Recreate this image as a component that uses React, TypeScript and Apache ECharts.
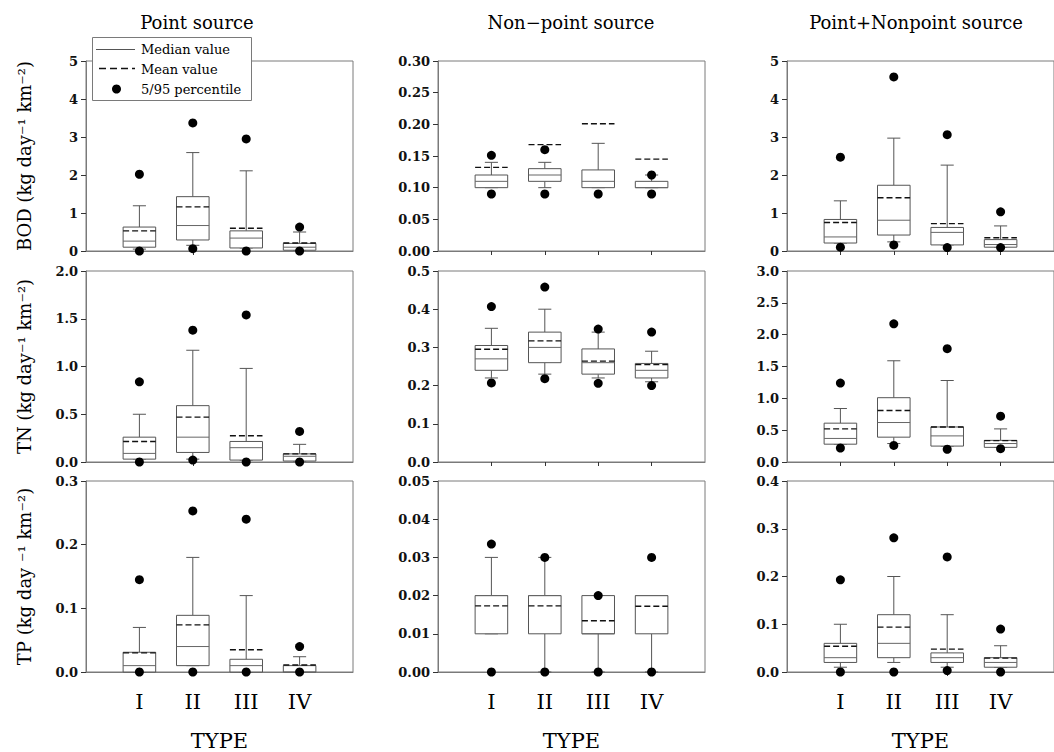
import React, { useEffect, useRef } from "react";
import * as echarts from "echarts";

// ---------- categories / labels ----------
const TYPES = ["I", "II", "III", "IV"];
const TYPE_POS = [1, 2, 3, 4];
const COL_TITLES = ["Point source", "Non\u2212point source", "Point+Nonpoint source"];
const ROW_LABELS = [
  "BOD (kg day\u207B\u00B9 km\u207B\u00B2)",
  "TN (kg day\u207B\u00B9 km\u207B\u00B2)",
  "TP (kg day \u207B\u00B9 km\u207B\u00B2)",
];
const X_TITLE = "TYPE";
const LEGEND_LABELS = ["Median value", "Mean value", "5/95 percentile"];

// y-axis scales per panel (row-major: BOD, TN, TP x Point, Nonpoint, Point+Nonpoint)
const Y_MAX = [5, 0.3, 5, 2.0, 0.5, 3.0, 0.3, 0.05, 0.4];
const Y_STEP = [1, 0.05, 1, 0.5, 0.1, 0.5, 0.1, 0.01, 0.1];
const Y_DEC = [0, 2, 0, 1, 1, 1, 1, 2, 1];

// ---------- data: box = [lower whisker, Q1, median, Q3, upper whisker] ----------
const BOD_POINT_BOX = [[0.05, 0.1, 0.26, 0.63, 1.19], [0.15, 0.29, 0.67, 1.43, 2.59], [0.08, 0.08, 0.34, 0.53, 2.11], [0.02, 0.02, 0.1, 0.2, 0.5]];
const BOD_POINT_MEAN = [0.53, 1.16, 0.6, 0.21];
const BOD_POINT_P95 = [2.02, 3.37, 2.95, 0.63];
const BOD_POINT_P5 = [0.0, 0.06, 0.0, 0.0];

const BOD_NONPOINT_BOX = [[0.1, 0.1, 0.11, 0.12, 0.14], [0.1, 0.11, 0.12, 0.13, 0.14], [0.1, 0.1, 0.11, 0.128, 0.17], [0.1, 0.1, 0.1, 0.11, 0.12]];
const BOD_NONPOINT_MEAN = [0.132, 0.168, 0.201, 0.145];
const BOD_NONPOINT_P95 = [0.151, 0.16, null, 0.12];
const BOD_NONPOINT_P5 = [0.09, 0.09, 0.09, 0.09];

const BOD_BOTH_BOX = [[0.21, 0.21, 0.37, 0.83, 1.32], [0.24, 0.42, 0.81, 1.73, 2.97], [0.16, 0.16, 0.49, 0.62, 2.26], [0.1, 0.1, 0.17, 0.3, 0.66]];
const BOD_BOTH_MEAN = [0.75, 1.4, 0.72, 0.35];
const BOD_BOTH_P95 = [2.47, 4.58, 3.06, 1.03];
const BOD_BOTH_P5 = [0.1, 0.16, 0.09, 0.09];

const TN_POINT_BOX = [[0.03, 0.03, 0.09, 0.26, 0.5], [0.03, 0.1, 0.26, 0.59, 1.17], [0.02, 0.02, 0.15, 0.215, 0.98], [0.01, 0.01, 0.06, 0.085, 0.185]];
const TN_POINT_MEAN = [0.215, 0.47, 0.275, 0.085];
const TN_POINT_P95 = [0.84, 1.38, 1.54, 0.32];
const TN_POINT_P5 = [0.0, 0.02, 0.0, 0.0];

const TN_NONPOINT_BOX = [[0.22, 0.24, 0.27, 0.305, 0.35], [0.23, 0.26, 0.3, 0.34, 0.4], [0.22, 0.23, 0.26, 0.296, 0.34], [0.21, 0.22, 0.24, 0.258, 0.29]];
const TN_NONPOINT_MEAN = [0.295, 0.317, 0.264, 0.255];
const TN_NONPOINT_P95 = [0.407, 0.458, 0.348, 0.34];
const TN_NONPOINT_P5 = [0.207, 0.218, 0.206, 0.2];

const TN_BOTH_BOX = [[0.28, 0.28, 0.37, 0.61, 0.84], [0.29, 0.39, 0.62, 1.01, 1.59], [0.25, 0.25, 0.41, 0.55, 1.28], [0.23, 0.23, 0.29, 0.34, 0.52]];
const TN_BOTH_MEAN = [0.52, 0.81, 0.55, 0.335];
const TN_BOTH_P95 = [1.24, 2.17, 1.78, 0.72];
const TN_BOTH_P5 = [0.22, 0.26, 0.2, 0.21];

const TP_POINT_BOX = [[0, 0, 0.01, 0.031, 0.07], [0.01, 0.01, 0.04, 0.089, 0.18], [0, 0, 0.01, 0.02, 0.12], [0, 0, 0, 0.01, 0.024]];
const TP_POINT_MEAN = [0.03, 0.074, 0.035, 0.011];
const TP_POINT_P95 = [0.145, 0.253, 0.24, 0.04];
const TP_POINT_P5 = [0, 0, 0, 0];

const TP_NONPOINT_BOX = [[0.01, 0.01, 0.02, 0.02, 0.03], [0.0, 0.01, 0.02, 0.02, 0.03], [0.0, 0.01, 0.01, 0.02, 0.02], [0.0, 0.01, 0.02, 0.02, 0.02]];
const TP_NONPOINT_MEAN = [0.0173, 0.0173, 0.0134, 0.0172];
const TP_NONPOINT_P95 = [0.0335, 0.03, 0.02, 0.03];
const TP_NONPOINT_P5 = [0, 0, 0, 0];

const TP_BOTH_BOX = [[0.01, 0.02, 0.03, 0.06, 0.1], [0.02, 0.03, 0.06, 0.12, 0.2], [0.01, 0.02, 0.03, 0.04, 0.12], [0.01, 0.01, 0.02, 0.03, 0.055]];
const TP_BOTH_MEAN = [0.054, 0.094, 0.048, 0.029];
const TP_BOTH_P95 = [0.193, 0.281, 0.241, 0.09];
const TP_BOTH_P5 = [0, 0, 0.003, 0];

const PANEL_BOX = [BOD_POINT_BOX, BOD_NONPOINT_BOX, BOD_BOTH_BOX, TN_POINT_BOX, TN_NONPOINT_BOX, TN_BOTH_BOX, TP_POINT_BOX, TP_NONPOINT_BOX, TP_BOTH_BOX];
const PANEL_MEAN = [BOD_POINT_MEAN, BOD_NONPOINT_MEAN, BOD_BOTH_MEAN, TN_POINT_MEAN, TN_NONPOINT_MEAN, TN_BOTH_MEAN, TP_POINT_MEAN, TP_NONPOINT_MEAN, TP_BOTH_MEAN];
const PANEL_P95 = [BOD_POINT_P95, BOD_NONPOINT_P95, BOD_BOTH_P95, TN_POINT_P95, TN_NONPOINT_P95, TN_BOTH_P95, TP_POINT_P95, TP_NONPOINT_P95, TP_BOTH_P95];
const PANEL_P5 = [BOD_POINT_P5, BOD_NONPOINT_P5, BOD_BOTH_P5, TN_POINT_P5, TN_NONPOINT_P5, TN_BOTH_P5, TP_POINT_P5, TP_NONPOINT_P5, TP_BOTH_P5];

// ---------- layout ----------
const GRID_LEFT = [86, 438, 787];
const GRID_TOP = [61, 271, 481];
const GRID_H = [190, 191, 191];
const GRID_W = 267;
const BOX_W = 0.61;
const CAP_W = 0.245;
const FONT = "DejaVu Serif";
const FRAME = "#7a7a7a";
const BOX_STROKE = "#555";

const renderBox = (_params: any, api: any) => {
  const x = api.value(0);
  const lo = api.coord([x, api.value(1)]);
  const q1 = api.coord([x, api.value(2)]);
  const md = api.coord([x, api.value(3)]);
  const q3 = api.coord([x, api.value(4)]);
  const hi = api.coord([x, api.value(5)]);
  const mn = api.coord([x, api.value(6)]);
  const hw = api.size([BOX_W, 0])[0] / 2;
  const cw = api.size([CAP_W, 0])[0] / 2;
  const cx = q1[0];
  const st = { stroke: BOX_STROKE, lineWidth: 1, fill: null };
  return {
    type: "group",
    children: [
      { type: "line", shape: { x1: cx, y1: q3[1], x2: cx, y2: hi[1] }, style: st },
      { type: "line", shape: { x1: cx - cw, y1: hi[1], x2: cx + cw, y2: hi[1] }, style: st },
      { type: "line", shape: { x1: cx, y1: q1[1], x2: cx, y2: lo[1] }, style: st },
      { type: "line", shape: { x1: cx - cw, y1: lo[1], x2: cx + cw, y2: lo[1] }, style: st },
      {
        type: "rect",
        shape: { x: cx - hw, y: q3[1], width: 2 * hw, height: q1[1] - q3[1] },
        style: { fill: "#fff", stroke: BOX_STROKE, lineWidth: 1 },
      },
      { type: "line", shape: { x1: cx - hw, y1: md[1], x2: cx + hw, y2: md[1] }, style: { stroke: "#666", lineWidth: 1 } },
      {
        type: "line",
        shape: { x1: cx - hw, y1: mn[1], x2: cx + hw, y2: mn[1] },
        style: { stroke: "#111", lineWidth: 1.4, lineDash: [6, 3] },
      },
    ],
  };
};

function buildOption() {
  const grid: any[] = [];
  const xAxis: any[] = [];
  const yAxis: any[] = [];
  const series: any[] = [];
  for (let i = 0; i < 9; i++) {
    const r = Math.floor(i / 3);
    const c = i % 3;
    grid.push({
      left: GRID_LEFT[c],
      top: GRID_TOP[r],
      width: GRID_W,
      height: GRID_H[r],
      show: true,
      borderColor: FRAME,
      borderWidth: 1,
      backgroundColor: "transparent",
    });
    xAxis.push({
      type: "value",
      gridIndex: i,
      min: 0,
      max: 5,
      interval: 1,
      splitLine: { show: false },
      axisLine: { show: true, onZero: false, lineStyle: { color: FRAME, width: 1 } },
      axisTick: { show: true, inside: false, length: 4, customValues: TYPE_POS, lineStyle: { color: "#333" } },
      axisLabel: {
        show: r === 2,
        customValues: TYPE_POS,
        formatter: (v: number) => TYPES[Math.round(v) - 1] ?? "",
        fontFamily: FONT,
        fontSize: 21,
        color: "#000",
        margin: 19,
      },
    });
    const dec = Y_DEC[i];
    yAxis.push({
      type: "value",
      gridIndex: i,
      min: 0,
      max: Y_MAX[i],
      interval: Y_STEP[i],
      splitLine: { show: false },
      axisLine: { show: true, lineStyle: { color: FRAME, width: 1 } },
      axisTick: { show: true, inside: false, length: 5, lineStyle: { color: "#333" } },
      axisLabel: {
        formatter: (v: number) => v.toFixed(dec),
        fontFamily: FONT,
        fontWeight: "bold",
        fontSize: 13,
        color: "#111",
        margin: 8,
      },
    });
    const boxes = PANEL_BOX[i].map((b, k) => [TYPE_POS[k], ...b, PANEL_MEAN[i][k]]);
    series.push({
      type: "custom",
      xAxisIndex: i,
      yAxisIndex: i,
      renderItem: renderBox,
      encode: { x: 0, y: [1, 2, 3, 4, 5, 6] },
      data: boxes,
      z: 3,
    });
    const dots: number[][] = [];
    PANEL_P95[i].forEach((v, k) => {
      if (v !== null && v !== undefined) dots.push([TYPE_POS[k], v as number]);
    });
    PANEL_P5[i].forEach((v, k) => {
      if (v !== null && v !== undefined) dots.push([TYPE_POS[k], v as number]);
    });
    series.push({
      type: "scatter",
      xAxisIndex: i,
      yAxisIndex: i,
      data: dots,
      symbol: "circle",
      symbolSize: 9,
      itemStyle: { color: "#000", opacity: 1 },
      clip: false,
      z: 4,
    });
  }

  const graphic: any[] = [];
  const titleX = [197, 571, 916];
  COL_TITLES.forEach((t, c) => {
    graphic.push({
      type: "text",
      x: titleX[c],
      y: 22,
      style: { text: t, fontFamily: FONT, fontSize: 18, fill: "#000", align: "center", verticalAlign: "middle" },
    });
    graphic.push({
      type: "text",
      x: GRID_LEFT[c] + GRID_W / 2,
      y: 741,
      style: { text: X_TITLE, fontFamily: FONT, fontSize: 21, fill: "#000", align: "center", verticalAlign: "middle" },
    });
  });
  ROW_LABELS.forEach((t, r) => {
    graphic.push({
      type: "text",
      x: 24,
      y: GRID_TOP[r] + GRID_H[r] / 2,
      rotation: Math.PI / 2,
      style: { text: t, fontFamily: FONT, fontSize: 18, fill: "#000", align: "center", verticalAlign: "middle" },
    });
  });
  // legend box
  graphic.push({
    type: "group",
    z: 100,
    children: [
      { type: "rect", shape: { x: 92.5, y: 37.5, width: 159, height: 63 }, style: { fill: "#fff", stroke: FRAME, lineWidth: 1 } },
      { type: "line", shape: { x1: 96, y1: 49.5, x2: 135, y2: 49.5 }, style: { stroke: "#555", lineWidth: 1 } },
      { type: "line", shape: { x1: 99, y1: 68.5, x2: 135, y2: 68.5 }, style: { stroke: "#111", lineWidth: 1.4, lineDash: [7, 4] } },
      { type: "circle", shape: { cx: 116.5, cy: 89, r: 4.5 }, style: { fill: "#000" } },
      { type: "text", x: 141, y: 49, style: { text: LEGEND_LABELS[0], fontFamily: FONT, fontSize: 13, fill: "#000", verticalAlign: "middle" } },
      { type: "text", x: 141, y: 69, style: { text: LEGEND_LABELS[1], fontFamily: FONT, fontSize: 13, fill: "#000", verticalAlign: "middle" } },
      { type: "text", x: 141, y: 89, style: { text: LEGEND_LABELS[2], fontFamily: FONT, fontSize: 13, fill: "#000", verticalAlign: "middle" } },
    ],
  });

  return {
    animation: false,
    backgroundColor: "#fff",
    textStyle: { fontFamily: FONT },
    grid,
    xAxis,
    yAxis,
    series,
    graphic,
  };
}

export default function App() {
  const ref = useRef<HTMLDivElement>(null);
  useEffect(() => {
    if (!ref.current) return;
    const chart = echarts.init(ref.current, null, { renderer: "svg" });
    chart.setOption(buildOption() as any);
    return () => chart.dispose();
  }, []);
  return (
    <div
      ref={ref}
      style={{ position: "fixed", left: 0, top: 0, width: 1054, height: 752, background: "#fff" }}
    />
  );
}
